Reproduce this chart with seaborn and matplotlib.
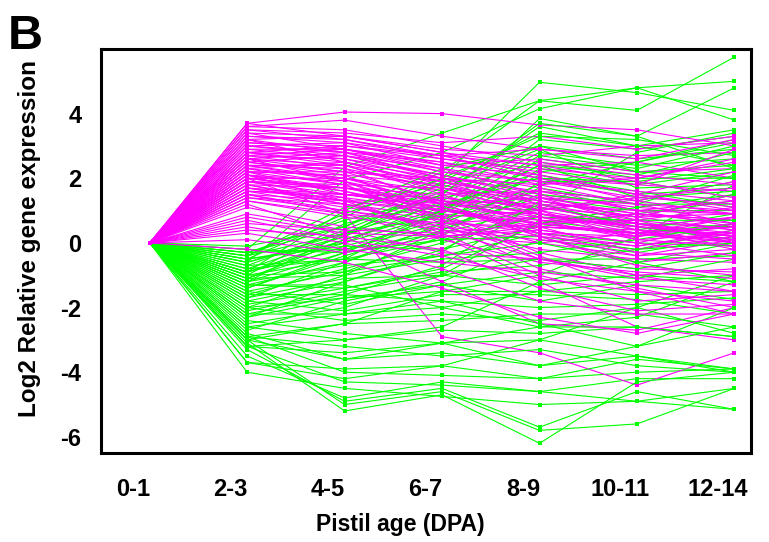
import pandas as pd
import numpy as np
import matplotlib.pyplot as plt
import seaborn as sns

sns.set_style('white')
plt.rcParams['font.family'] = ['Liberation Sans', 'DejaVu Sans']
plt.rcParams['font.weight'] = 'bold'
plt.rcParams['text.color'] = 'black'
plt.rcParams['axes.labelcolor'] = 'black'
plt.rcParams['xtick.color'] = 'black'
plt.rcParams['ytick.color'] = 'black'

# Pistil stages (x axis)
stages = ['0-1', '2-3', '4-5', '6-7', '8-9', '10-11', '12-14']

# Genes going up first, then down (magenta) - log2 values per stage
magenta_genes = [
    [0, 3.7, 4.05, 4.0, 3.65, 3.5, 3.0],
    [0, 3.6, 3.8, 3.3, 2.9, 2.7, 2.8],
    [0, 3.5, 3.4, 3.1, 3.3, 2.9, 3.3],
    [0, 3.4, 3.3, 2.9, 2.7, 3.0, 3.1],
    [0, 3.3, 3.2, 2.6, 2.3, 2.0, 2.6],
    [0, 3.2, 3.3, 2.8, 2.1, 1.5, 1.0],
    [0, 3.1, 2.9, 2.5, 1.8, 1.2, 0.6],
    [0, 3.0, 3.1, 2.4, 2.6, 2.2, 2.3],
    [0, 3.0, 2.7, 2.0, 1.3, 0.8, 0.4],
    [0, 2.9, 2.9, 2.2, 1.7, 1.0, 1.3],
    [0, 2.8, 2.5, 1.8, 1.0, 0.5, 0.2],
    [0, 2.8, 3.0, 2.7, 2.4, 2.5, 2.0],
    [0, 2.7, 2.3, 1.2, 0.2, -0.6, -0.3],
    [0, 2.7, 2.6, 2.1, 1.5, 1.1, 0.9],
    [0, 2.6, 2.4, 1.6, 0.8, 0.2, 0.5],
    [0, 2.6, 2.8, 2.5, 2.0, 1.8, 1.6],
    [0, 2.5, 2.1, 0.9, -0.3, -1.0, -1.5],
    [0, 2.5, 2.2, 1.9, 1.4, 0.9, 0.7],
    [0, 2.4, 2.3, 1.7, 1.1, 0.6, 0.0],
    [0, 2.4, 1.9, 1.0, 0.5, 0.3, 0.8],
    [0, 2.3, 2.5, 2.0, 1.6, 1.3, 1.9],
    [0, 2.3, 2.0, 1.4, 0.9, 0.4, 0.3],
    [0, 2.2, 1.8, 0.6, -0.8, -1.4, -2.0],
    [0, 2.2, 2.1, 1.8, 1.2, 0.7, 1.1],
    [0, 2.1, 1.9, 1.3, 0.7, 0.1, -0.1],
    [0, 2.1, 1.7, 1.5, 1.6, 1.0, 0.5],
    [0, 2.0, 1.6, 0.8, 0.0, -0.4, 0.1],
    [0, 2.0, 2.0, 1.6, 1.0, 1.4, 1.2],
    [0, 1.9, 1.5, 1.1, 0.4, 0.0, 0.6],
    [0, 1.9, 1.4, 0.2, -1.2, -2.6, -3.0],
    [0, 1.8, 1.7, 1.2, 0.8, 0.5, 0.2],
    [0, 1.8, 1.3, 0.9, 0.6, 0.9, 0.7],
    [0, 1.7, 1.5, 1.4, 1.1, 0.8, 1.5],
    [0, 1.7, 1.2, 0.5, -0.2, -0.5, -0.6],
    [0, 1.6, 1.4, 1.0, 0.9, 0.6, 0.3],
    [0, 1.6, 1.1, 0.7, 0.3, 0.2, 0.8],
    [0, 1.5, 1.3, 1.3, 1.2, 1.0, 0.9],
    [0, 1.5, 0.9, 0.1, -0.6, -0.9, -1.1],
    [0, 1.4, 1.0, 0.6, 0.5, 0.4, 0.0],
    [0, 1.4, 1.2, 0.8, 1.0, 1.5, 2.2],
    [0, 1.3, 0.8, 0.4, 0.1, -0.2, 0.2],
    [0, 1.2, 0.2, -1.2, -2.5, -2.7, -2.0],
    [0, 2.0, 0.9, -2.9, -3.4, -4.4, -3.4],
    [0, 1.1, 0.5, 0.2, 0.0, 0.3, 0.5],
    [0, 0.9, 0.4, -0.3, -0.5, -0.8, -0.9],
    [0, 0.8, 0.3, 0.2, 0.4, 0.0, -0.4],
    [0, 0.7, 0.1, -0.4, -1.1, -1.5, -1.8],
    [0, 0.6, 0.4, 0.3, 0.6, 0.7, 0.4],
    [0, 0.5, 0.0, -0.8, -1.8, -2.2, -2.2],
    [0, 0.3, -0.2, -0.6, -0.9, -1.3, -1.5],
    [0, 0.1, -0.3, 0.2, 0.5, 0.3, 0.1],
    [0, -0.2, -0.6, -1.4, -2.3, -2.8, -2.2],
    [0, 3.6, 3.5, 3.0, 2.5, 2.1, 1.8],
    [0, 3.4, 2.9, 2.3, 1.5, 0.7, 0.0],
    [0, 3.2, 2.8, 2.0, 1.2, 0.4, -0.2],
    [0, 3.1, 3.0, 2.6, 2.2, 1.8, 2.9],
    [0, 2.9, 2.6, 1.9, 1.0, 0.1, 0.3],
    [0, 2.8, 2.4, 1.5, 0.5, -0.3, -0.5],
    [0, 2.6, 2.2, 1.3, 0.6, 0.2, 0.6],
    [0, 2.5, 2.7, 2.3, 1.9, 1.6, 1.3],
    [0, 2.4, 2.0, 1.2, 0.3, -0.1, 0.4],
    [0, 2.3, 1.8, 0.7, -0.5, -1.0, -0.8],
    [0, 2.2, 2.2, 2.0, 1.8, 2.0, 2.5],
    [0, 2.1, 1.6, 1.0, 0.6, 0.3, 0.0],
    [0, 2.0, 1.7, 1.3, 0.9, 0.5, 0.8],
    [0, 1.9, 1.8, 1.7, 1.3, 0.9, 0.6],
    [0, 1.8, 1.2, 0.4, -0.5, -1.1, -1.3],
    [0, 1.7, 1.3, 1.0, 0.7, 0.6, 0.1],
    [0, 1.6, 1.5, 1.2, 1.4, 1.2, 1.0],
    [0, 1.5, 1.0, 0.5, 0.2, -0.1, 0.3],
    [0, 3.3, 3.1, 2.7, 2.9, 2.6, 3.2],
    [0, 3.0, 2.8, 2.2, 1.9, 1.4, 1.7],
    [0, 2.7, 2.9, 2.4, 2.1, 1.5, 1.1],
    [0, 2.4, 2.4, 1.9, 1.3, 0.8, 0.9],
    [0, 3.5, 3.2, 2.7, 2.0, 1.3, 0.9],
    [0, 2.6, 1.9, 0.8, -0.4, -1.5, -2.2],
    [0, 2.1, 1.3, 0.3, -1.0, -1.8, -1.6],
    [0, 1.3, 0.9, 0.6, 0.8, 0.5, 0.2],
    [0, 2.8, 2.7, 2.1, 1.4, 0.6, 0.2],
    [0, 3.2, 2.5, 1.7, 0.9, 0.3, -0.1],
    [0, 1.9, 1.7, 1.1, 0.3, -0.4, -0.2],
    [0, 2.2, 1.5, 1.1, 0.2, -0.7, -1.0],
    [0, 3.7, 3.3, 2.8, 2.4, 1.9, 1.4],
    [0, 0.4, 0.2, -0.2, -1.4, -2.1, -1.9],
]

# Genes going down first, then up or staying low (green)
green_genes = [
    [0, -0.3, 0.5, 2.0, 4.97, 4.65, 4.1],
    [0, -0.5, 0.8, 2.2, 4.4, 4.8, 5.0],
    [0, -0.2, 2.35, 3.4, 4.4, 4.1, 5.75],
    [0, -0.6, 1.95, 2.8, 4.15, 4.8, 3.8],
    [0, -1.0, -0.5, 1.0, 3.85, 3.3, 4.8],
    [0, -0.8, 0.2, 1.5, 3.6, 3.0, 3.5],
    [0, -1.2, -0.3, 0.9, 3.2, 2.9, 3.3],
    [0, -0.4, 1.1, 1.8, 3.0, 2.6, 2.9],
    [0, -0.9, 0.0, 1.3, 2.8, 2.4, 2.6],
    [0, -1.3, -0.6, 0.6, 2.6, 2.2, 2.4],
    [0, -0.7, 0.4, 1.6, 2.5, 2.0, 2.0],
    [0, -1.5, -0.9, 0.2, 2.3, 1.8, 2.2],
    [0, -1.1, 0.1, 1.1, 2.2, 2.5, 3.1],
    [0, -0.3, 0.7, 1.4, 2.0, 1.5, 1.7],
    [0, -1.8, -1.2, -0.3, 1.9, 1.9, 1.4],
    [0, -2.0, -1.0, 0.4, 1.7, 1.2, 1.2],
    [0, -0.6, 0.3, 0.8, 1.6, 1.3, 1.9],
    [0, -1.4, -0.4, 0.5, 1.4, 1.0, 1.0],
    [0, -2.2, -1.6, -0.7, 1.3, 0.8, 1.5],
    [0, -0.9, -0.2, 0.3, 1.1, 0.6, 0.5],
    [0, -1.0, 0.6, 1.2, 1.0, 2.8, 3.4],
    [0, -1.6, -0.8, 0.0, 0.9, 0.4, 0.9],
    [0, -2.5, -2.0, -1.0, 0.7, 0.3, 0.6],
    [0, -0.5, -0.1, -0.2, 0.5, 0.9, 1.3],
    [0, -1.2, -0.7, -0.4, 0.3, 0.0, -0.1],
    [0, -2.7, -1.8, -1.2, 0.1, -0.3, 0.2],
    [0, -0.8, -0.5, -0.6, -0.5, -0.5, -0.4],
    [0, -1.9, -1.4, -0.9, -0.7, -0.2, 0.4],
    [0, -3.0, -2.5, -1.5, -1.0, 0.2, 1.8],
    [0, -1.7, -1.1, -1.0, -1.3, -1.0, -1.2],
    [0, -2.3, -1.7, -1.5, -1.5, -1.6, -1.5],
    [0, -2.6, -2.2, -1.8, -2.0, -1.9, -1.7],
    [0, -2.9, -2.5, -2.4, -2.2, -2.2, -2.6],
    [0, -1.3, -1.3, -2.0, -2.6, -2.3, -1.2],
    [0, -3.2, -3.0, -2.7, -2.8, -2.6, -2.9],
    [0, -3.7, -4.2, -3.8, -3.0, -2.0, -1.0],
    [0, -3.0, -3.6, -3.1, -3.8, -3.5, -4.0],
    [0, -2.9, -4.0, -4.1, -4.2, -4.0, -3.9],
    [0, -3.2, -4.3, -4.4, -4.6, -4.2, -4.2],
    [0, -4.0, -4.5, -4.75, -5.0, -4.9, -4.5],
    [0, -3.1, -5.2, -4.7, -6.2, -4.3, -4.0],
    [0, -3.0, -5.0, -4.6, -5.8, -5.6, -4.5],
    [0, -3.3, -4.9, -4.5, -5.7, -4.6, -5.15],
    [0, -2.8, -3.6, -3.4, -3.8, -3.2, -2.6],
    [0, -3.5, -4.8, -4.3, -4.6, -4.9, -5.15],
    [0, -2.4, -2.8, -3.1, -3.0, -3.5, -3.9],
    [0, -0.2, -0.3, 0.1, 0.2, -0.2, 0.0],
    [0, -0.4, 0.9, 2.0, 3.3, 3.2, 2.7],
    [0, -1.1, -0.1, 0.7, 2.1, 1.6, 1.1],
    [0, -0.6, 0.2, 1.9, 3.4, 3.0, 2.4],
    [0, -1.4, -0.3, 1.0, 2.4, 2.1, 2.8],
    [0, -0.1, 0.5, 1.7, 2.9, 1.7, 1.8],
    [0, -2.1, -1.5, -1.0, -0.5, -0.8, -0.3],
    [0, -1.5, -1.9, -1.3, -1.8, -1.3, -1.75],
    [0, -2.0, -2.4, -2.2, -2.4, -2.0, -2.8],
    [0, -1.7, -0.6, 0.4, 1.5, 1.2, 2.1],
    [0, -0.9, 0.1, 1.0, 2.7, 2.3, 3.0],
    [0, -2.3, -1.2, -0.2, 1.2, 0.5, 0.1],
    [0, -1.0, -0.9, -0.4, 0.0, -0.6, -1.2],
    [0, -2.6, -3.0, -2.6, -1.2, -0.6, 0.0],
    [0, -1.2, 0.3, 1.5, 3.7, 3.3, 2.3],
    [0, -0.3, -0.2, 0.6, 1.8, 2.5, 3.2],
    [0, -1.8, -2.1, -1.6, -1.6, -1.75, -2.2],
    [0, -0.7, -0.5, 0.1, 0.8, 0.7, 0.7],
    [0, -3.2, -3.4, -3.1, -2.6, -2.6, -2.9],
    [0, -1.6, -1.6, -1.8, -2.5, -3.2, -2.0],
    [0, -0.5, 0.0, 0.9, 2.4, 1.4, 1.6],
    [0, -1.3, -1.4, -0.8, 0.6, 1.1, 1.5],
    [0, -2.2, -2.2, -2.0, -1.5, -1.2, -1.0],
    [0, -0.9, 1.0, 2.3, 3.0, 2.2, 2.0],
    [0, -3.7, -3.9, -3.8, -4.2, -3.6, -3.9],
    [0, -2.9, -3.2, -3.5, -3.3, -3.8, -4.0],
    [0, -1.1, -1.0, -0.5, -0.3, 0.1, 0.6],
    [0, -2.0, -1.7, -1.3, -0.9, -1.1, -0.5],
    [0, -0.4, 0.3, 1.2, 2.0, 1.9, 2.3],
]


def to_long(genes, cluster, start):
    rows = []
    for g, vals in enumerate(genes):
        for i, v in enumerate(vals):
            rows.append({'gene': cluster + str(start + g), 'cluster': cluster,
                         'stage': i + 0.17, 'value': v})
    return pd.DataFrame(rows)


fig = plt.figure(figsize=(7.69, 5.42), dpi=100)
ax = fig.add_axes([0.1313, 0.1642, 0.8453, 0.7454])

palette = {'up': '#ff00ff', 'down': '#00ff00'}
# draw the two groups in alternating chunks so they overlap in a mixed way
chunks = [
    to_long(green_genes[:40], 'down', 0),
    to_long(magenta_genes[:45], 'up', 0),
    to_long(green_genes[40:], 'down', 40),
    to_long(magenta_genes[45:], 'up', 45),
]
for part in chunks:
    sns.lineplot(data=part, x='stage', y='value', hue='cluster', units='gene',
                 estimator=None, sort=False, legend=False, palette=palette,
                 linewidth=0.8, marker='s', markersize=2.5, markeredgewidth=0,
                 ax=ax)

ax.set_xlim(-0.33, 6.34)
ax.set_ylim(-6.5, 6.0)
ax.set_xticks(range(len(stages)))
ax.set_xticklabels(stages)
ax.set_yticks([-6, -4, -2, 0, 2, 4])
ax.set_yticklabels(['-6', '-4', '-2', '0', '2', '4'])
ax.tick_params(direction='out', length=7, width=2.2, labelsize=17, pad=7)
ax.tick_params(axis='x', pad=11)
for sp in ax.spines.values():
    sp.set_linewidth(2.2)
    sp.set_color('black')

ax.set_xlabel('Pistil age (DPA)', fontsize=16.5, fontweight='bold')
ax.set_ylabel('Log2 Relative gene expression', fontsize=17.5, fontweight='bold')
ax.xaxis.set_label_coords(0.46, -0.148)
ax.yaxis.set_label_coords(-0.092, 0.53)

fig.text(0.01, 0.975, 'B', fontsize=35, fontweight='bold', va='top', ha='left')

plt.savefig('out.png', dpi=100)
plt.close()
